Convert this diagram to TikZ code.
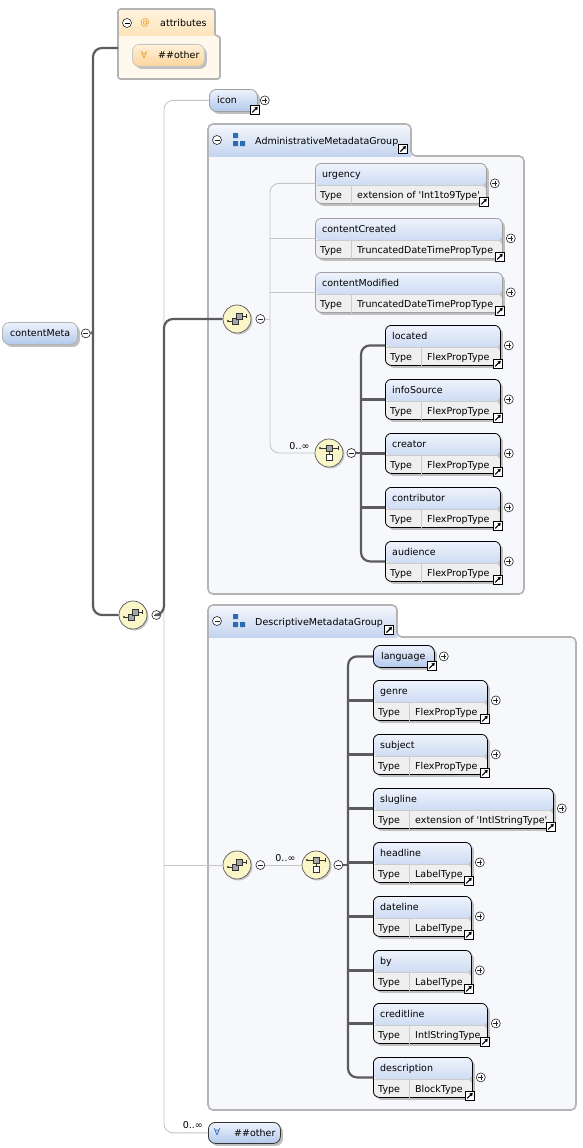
\documentclass[tikz,border=0pt]{standalone}
\usepackage{fontspec}
\setmainfont{DejaVu Sans}
\usetikzlibrary{shadows,arrows.meta}

\definecolor{hdtop}{HTML}{EEF3FC}
\definecolor{hdbot}{HTML}{B2C8EC}
\definecolor{typefill}{HTML}{EFEFEF}
\definecolor{grptop}{HTML}{F6F8FD}
\definecolor{grpbot}{HTML}{C4D4EF}
\definecolor{grpfill}{HTML}{F7F8FC}
\definecolor{attrtop}{HTML}{FFF4E2}
\definecolor{attrbot}{HTML}{FDE3B8}
\definecolor{attrfill}{HTML}{FFF8ED}
\definecolor{othtop}{HTML}{FFF1DA}
\definecolor{othbot}{HTML}{FCD49A}
\definecolor{boxline}{HTML}{B4B4B4}
\definecolor{reqgray}{HTML}{5C5C5C}
\definecolor{optgray}{HTML}{C6C6C6}
\definecolor{optbord}{HTML}{A0A0A0}
\definecolor{seqfill}{HTML}{FBF6C8}
\definecolor{orangeic}{HTML}{E39A1E}
\definecolor{blueic}{HTML}{2B6CB5}

\tikzset{
  lbl/.style={inner sep=0pt, font=\fontsize{9.5}{11}\selectfont},
  reqline/.style={draw=reqgray, line width=2.2pt},
  optline/.style={draw=optgray, line width=0.9pt},
  cellline/.style={draw=black!20, line width=0.5pt},
  elshadow/.style={drop shadow={shadow xshift=2.5pt, shadow yshift=-2.5pt, fill=black!25, opacity=1}},
  simplebox/.style={rectangle, rounded corners=7pt, line width=0.8pt, minimum height=22pt,
    inner sep=0pt, top color=hdtop, bottom color=hdbot, elshadow},
  typedbox/.style={rectangle, rounded corners=6pt, line width=0.8pt, minimum height=40pt,
    inner sep=0pt, elshadow,
    path picture={
      \shade[top color=hdtop, bottom color=hdbot] (path picture bounding box.north west)
        rectangle ([yshift=18pt]path picture bounding box.south east);
      \fill[typefill] ([yshift=18pt]path picture bounding box.south west)
        rectangle (path picture bounding box.south east);
      \draw[cellline] ([yshift=18pt]path picture bounding box.south west)
        -- ([yshift=18pt]path picture bounding box.south east);
    }},
  btn/.style={circle, draw=black!85, fill=white, line width=0.6pt, minimum size=9pt, inner sep=0pt},
  minusbtn/.style={btn, path picture={
      \draw[line width=0.6pt] ([xshift=-2.5pt]path picture bounding box.center)
        -- ([xshift=2.5pt]path picture bounding box.center);}},
  plusbtn/.style={btn, path picture={
      \draw[line width=0.6pt] ([xshift=-2.5pt]path picture bounding box.center)
        -- ([xshift=2.5pt]path picture bounding box.center)
        ([yshift=-2.5pt]path picture bounding box.center)
        -- ([yshift=2.5pt]path picture bounding box.center);}},
  linkbtn/.style={rectangle, draw=black, fill=white, line width=0.7pt, minimum size=9pt, inner sep=0pt,
    path picture={
      \draw[line width=1.2pt, -{Triangle[length=3pt,width=3.6pt]}]
        ([shift={(-2.6,2.6)}]path picture bounding box.center)
        -- ([shift={(3,-3)}]path picture bounding box.center);}},
  seqic/.style={circle, draw=black!65, line width=0.7pt, fill=seqfill, minimum size=28pt, inner sep=0pt,
    drop shadow={shadow xshift=1.5pt, shadow yshift=-1.5pt, fill=black!22, opacity=1},
    path picture={
      \coordinate (g) at (path picture bounding box.center);
      \draw[black!80, line width=0.6pt] ([shift={(-9,2)}]g) -- ([shift={(-5,2)}]g)
        ([shift={(5,-3)}]g) -- ([shift={(9,-3)}]g) ([shift={(9,-5)}]g) -- ([shift={(9,-1)}]g);
      \fill[black!80] ([shift={(-9,2)}]g) circle (1.2pt);
      \draw[black!80, fill=black!35, line width=0.5pt] ([shift={(-5,-1)}]g) rectangle ([shift={(1,5)}]g);
      \draw[black!80, fill=black!35, line width=0.5pt] ([shift={(-1,-6)}]g) rectangle ([shift={(5,0)}]g);
    }},
  choiceic/.style={circle, draw=black!65, line width=0.7pt, fill=seqfill, minimum size=28pt, inner sep=0pt,
    drop shadow={shadow xshift=1.5pt, shadow yshift=-1.5pt, fill=black!22, opacity=1},
    path picture={
      \coordinate (g) at (path picture bounding box.center);
      \draw[black!80, line width=0.6pt] ([shift={(-9,-5)}]g) -- ([shift={(9,-5)}]g)
        ([shift={(9,-7)}]g) -- ([shift={(9,-3)}]g) ([shift={(0,-2)}]g) -- ([shift={(0,1)}]g);
      \fill[black!80] ([shift={(-9,-5)}]g) circle (1.2pt);
      \draw[black!80, fill=black!35, line width=0.5pt] ([shift={(-3,-8)}]g) rectangle ([shift={(3,-2)}]g);
      \draw[black!80, fill=white, line width=0.5pt] ([shift={(-3,1)}]g) rectangle ([shift={(3,7)}]g);
    }},
  grpnode/.style={rectangle, inner sep=0pt, outer sep=0pt},
  grpoutline/.style={draw=boxline, line width=1.6pt}
}

% element with a Type row: name, x, y, width, label, type, border
\newcommand{\typedel}[7]{%
  \node[typedbox, draw=#7, minimum width=#4pt, anchor=north west] (#1) at (#2,#3) {};
  \node[lbl, anchor=base west] at ([xshift=7pt,yshift=-14pt]#1.north west) {#5};
  \node[lbl, anchor=base west] at ([xshift=5pt,yshift=5.5pt]#1.south west) {Type};
  \draw[cellline] ([xshift=36pt,yshift=18pt]#1.south west) -- ([xshift=36pt]#1.south west);
  \node[lbl, anchor=base west] at ([xshift=42pt,yshift=5.5pt]#1.south west) {#6};
  \node[plusbtn] (#1-p) at ([xshift=8pt]#1.east) {};
  \node[linkbtn] at ([xshift=-3pt,yshift=2pt]#1.south east) {};
}
% plain element: name, x, y, width, label, border
\newcommand{\simpleel}[6]{%
  \node[simplebox, draw=#6, minimum width=#4pt, anchor=north west] (#1) at (#2,#3) {};
  \node[lbl, anchor=base west] at ([xshift=8pt,yshift=-14.5pt]#1.north west) {#5};
}
% group box: name, x, y, tab width, tab height, body width, body height, colour prefix, corner
\newcommand{\grpbox}[9]{%
  \node[grpnode, minimum width=#4pt, minimum height=#5pt, anchor=north west] (#1-tab) at (#2,#3) {};
  \node[grpnode, minimum width=#6pt, minimum height=#7pt, anchor=north west] (#1-body) at (#1-tab.south west) {};
  \begin{scope}
    \clip[rounded corners=#9] (#1-tab.north west) -- (#1-tab.north east) -- (#1-tab.south east)
      -- (#1-body.north east) -- (#1-body.south east) -- (#1-body.south west) -- cycle;
    \fill[#8fill] (#1-body.north west) rectangle (#1-body.south east);
    \shade[top color=#8top, bottom color=#8bot] (#1-tab.north west) rectangle (#1-tab.south east);
  \end{scope}
  \draw[grpoutline, rounded corners=#9] (#1-tab.north west) -- (#1-tab.north east) -- (#1-tab.south east)
    -- (#1-body.north east) -- (#1-body.south east) -- (#1-body.south west) -- cycle;
}

\begin{document}
\begin{tikzpicture}[x=1pt,y=-1pt]
\useasboundingbox[fill=white] (0,0) rectangle (583,1148);

% Groups
\grpbox{attr}{118}{9}{97}{27}{102}{43}{attr}{2.5pt}
\node[btn] at (127,23) {};
\draw[line width=0.6pt] (124.5,23) -- (129.5,23);
\node[lbl, text=orangeic] at (145,22.5) {@};
\node[lbl, anchor=base west] at (160,27) {attributes};
\node[simplebox, top color=othtop, bottom color=othbot, draw=black!22, minimum width=72pt,
  minimum height=22pt, anchor=north west] (attrother) at (132,44) {};
\node[lbl, text=orangeic] at (144,55) {∀};
\node[lbl, anchor=base west] at (158,59) {\#\#other};

\grpbox{adm}{208}{124}{203}{32}{316}{438}{grp}{5pt}
\node[minusbtn] at ([xshift=9pt]adm-tab.west) {};
\fill[blueic] (233,133) rectangle (238,138) (233,141) rectangle (238,146) (240,141) rectangle (245,146);
\node[lbl, anchor=base west] at (255,144) {AdministrativeMetadataGroup};
\node[linkbtn] at ([xshift=-8pt,yshift=7pt]adm-tab.south east) {};

\grpbox{desc}{208}{605}{189}{32}{368}{473}{grp}{5pt}
\node[minusbtn] at ([xshift=9pt]desc-tab.west) {};
\fill[blueic] (233,614) rectangle (238,619) (233,622) rectangle (238,627) (240,622) rectangle (245,627);
\node[lbl, anchor=base west] at (255,625) {DescriptiveMetadataGroup};
\node[linkbtn] at ([xshift=-8pt,yshift=7pt]desc-tab.south east) {};

% Nodes
\simpleel{cm}{2}{322}{75}{contentMeta}{black!30}
\node[minusbtn] (cm-m) at ([xshift=8pt]cm.east) {};

\node[seqic] (seq1) at (133,615) {};
\node[minusbtn] (seq1-m) at ([xshift=9pt]seq1.east) {};

\simpleel{icon}{209}{89}{48}{icon}{optbord}
\node[plusbtn] at ([xshift=7pt]icon.east) {};
\node[linkbtn] at ([xshift=-3pt,yshift=2pt]icon.south east) {};

\node[seqic] (seq2) at (237,319) {};
\node[minusbtn] (seq2-m) at ([xshift=9pt]seq2.east) {};
\node[choiceic] (choice1) at (329,453) {};
\node[minusbtn] (choice1-m) at ([xshift=8pt]choice1.east) {};

\typedel{urgency}{315}{163}{171}{urgency}{extension of \textquotesingle Int1to9Type\textquotesingle}{optbord}
\typedel{contentCreated}{315}{218}{187}{contentCreated}{TruncatedDateTimePropType}{optbord}
\typedel{contentModified}{315}{272}{187}{contentModified}{TruncatedDateTimePropType}{optbord}
\typedel{located}{385}{325}{115}{located}{FlexPropType}{black}
\typedel{infoSource}{385}{379}{115}{infoSource}{FlexPropType}{black}
\typedel{creator}{385}{433}{115}{creator}{FlexPropType}{black}
\typedel{contributor}{385}{487}{115}{contributor}{FlexPropType}{black}
\typedel{audience}{385}{541}{115}{audience}{FlexPropType}{black}

\node[seqic] (seq3) at (237,865) {};
\node[minusbtn] (seq3-m) at ([xshift=9pt]seq3.east) {};
\node[choiceic] (choice2) at (316,865) {};
\node[minusbtn] (choice2-m) at ([xshift=8pt]choice2.east) {};

\simpleel{language}{373}{645}{61}{language}{black}
\node[plusbtn] at ([xshift=9pt]language.east) {};
\node[linkbtn] at ([xshift=-3pt,yshift=2pt]language.south east) {};
\typedel{genre}{373}{680}{114}{genre}{FlexPropType}{black}
\typedel{subject}{373}{734}{114}{subject}{FlexPropType}{black}
\typedel{slugline}{373}{788}{180}{slugline}{extension of \textquotesingle IntlStringType\textquotesingle}{black}
\typedel{headline}{373}{842}{98}{headline}{LabelType}{black}
\typedel{dateline}{373}{896}{98}{dateline}{LabelType}{black}
\typedel{by}{373}{950}{98}{by}{LabelType}{black}
\typedel{creditline}{373}{1003}{114}{creditline}{IntlStringType}{black}
\typedel{description}{373}{1057}{99}{description}{BlockType}{black}

\node[simplebox, draw=black!80, minimum width=72pt, minimum height=21pt, anchor=north west] (other) at (208,1122) {};
\node[lbl, text=blueic] at (217,1132) {∀};
\node[lbl, anchor=base west] at (234,1136) {\#\#other};

% Links
\coordinate (roottrunk) at (93,332);
\coordinate (seqtrunk) at (164,615);
\coordinate (admtrunk) at (270,319);
\coordinate (chtrunk1) at (361,453);
\coordinate (chtrunk2) at (348,865);

\draw[reqline, rounded corners=9pt] ([yshift=-12pt]attr-body.north west) -| (roottrunk) |- (seq1.west);
\draw[reqline] (cm-m.east) -- (roottrunk);

\draw[optline, rounded corners=9pt] (icon.west) -| (seqtrunk) |- (other.west);
\draw[optline] (seq3.west) -- (seq3.west -| seqtrunk);
\draw[reqline, rounded corners=9pt] (seq1-m.east) -- (seqtrunk) |- (seq2.west);
\node[lbl, anchor=base east] at ([xshift=-5pt,yshift=4pt]other.west) {0..∞};

\draw[optline] (seq2-m.east) -- (admtrunk);
\draw[optline, rounded corners=9pt] (urgency.west) -| (admtrunk) |- (choice1.west);
\draw[optline] (contentCreated.west) -- (contentCreated.west -| admtrunk);
\draw[optline] (contentModified.west) -- (contentModified.west -| admtrunk);
\node[lbl, anchor=base east] at ([xshift=-5pt,yshift=4pt]choice1.west) {0..∞};

\draw[reqline] (choice1-m.east) -- (chtrunk1);
\draw[reqline, rounded corners=9pt] (located.west) -| (chtrunk1) |- (audience.west);
\draw[reqline] (infoSource.west) -- (infoSource.west -| chtrunk1);
\draw[reqline] (creator.west) -- (creator.west -| chtrunk1);
\draw[reqline] (contributor.west) -- (contributor.west -| chtrunk1);

\draw[optline] (seq3-m.east) -- (choice2.west);
\node[lbl, anchor=base east] at ([xshift=-6pt,yshift=4pt]choice2.west) {0..∞};
\draw[reqline] (choice2-m.east) -- (chtrunk2);
\draw[reqline, rounded corners=9pt] (language.west) -| (chtrunk2) |- (description.west);
\foreach \el in {genre, subject, slugline, headline, dateline, by, creditline}
  \draw[reqline] (\el.west) -- (\el.west -| chtrunk2);
\end{tikzpicture}
\end{document}
